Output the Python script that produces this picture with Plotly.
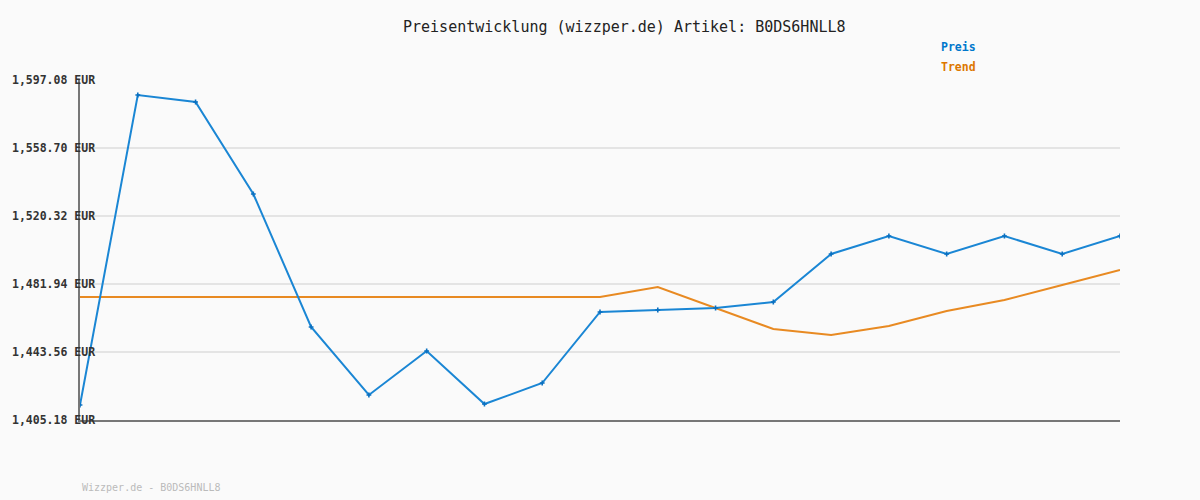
import plotly.graph_objects as go

x_idx = list(range(19))
preis = [1413.65, 1588.61, 1584.66, 1532.74, 1457.67, 1419.29, 1444.12, 1414.21, 1426.06,
         1466.14, 1467.26, 1468.39, 1471.78, 1498.87, 1509.03, 1498.87, 1509.03, 1498.87, 1509.03]
trend = [1474.6, 1474.6, 1474.6, 1474.6, 1474.6, 1474.6, 1474.6, 1474.6, 1474.6,
         1474.6, 1480.25, 1468.39, 1456.54, 1453.15, 1458.23, 1466.7, 1472.91, 1481.37, 1489.84]
tick_vals = [1405.18, 1443.56, 1481.94, 1520.32, 1558.70, 1597.08]
tick_text = ["1,405.18 EUR", "1,443.56 EUR", "1,481.94 EUR", "1,520.32 EUR", "1,558.70 EUR", "1,597.08 EUR"]
title_text = "Preisentwicklung (wizzper.de) Artikel: B0DS6HNLL8"
footer_text = "Wizzper.de - B0DS6HNLL8"

MONO = "DejaVu Sans Mono"
BG = "#fafafa"

fig = go.Figure()
fig.add_trace(go.Scatter(x=x_idx, y=trend, mode="lines", line=dict(color="#e88a22", width=2),
                         name="Trend", hoverinfo="skip"))
fig.add_trace(go.Scatter(x=x_idx, y=preis, mode="lines+markers", line=dict(color="#1a86d4", width=2),
                         marker=dict(symbol="cross", size=4, color="#0a70c0"), name="Preis"))

anns = []
for v, t in zip(tick_vals, tick_text):
    anns.append(dict(x=0, xref="paper", xshift=-70, y=v, yref="y", text=t, showarrow=False,
                     xanchor="left", yanchor="middle",
                     font=dict(family=MONO, size=11.5, color="#333333", weight="bold")))
anns.append(dict(x=(624 - 80) / 1040, xref="paper", y=1, yref="paper", yshift=53, text=title_text,
                 showarrow=False, xanchor="center", yanchor="middle",
                 font=dict(family=MONO, size=15, color="#222222")))
anns.append(dict(x=(939 - 80) / 1040, xref="paper", y=1, yref="paper", yshift=33, text="Preis",
                 showarrow=False, xanchor="left", yanchor="middle",
                 font=dict(family=MONO, size=11.5, color="#0077cc", weight="bold")))
anns.append(dict(x=(939 - 80) / 1040, xref="paper", y=1, yref="paper", yshift=13, text="Trend",
                 showarrow=False, xanchor="left", yanchor="middle",
                 font=dict(family=MONO, size=11.5, color="#dd7700", weight="bold")))
anns.append(dict(x=0, xref="paper", y=0, yref="paper", yshift=-67, text=footer_text,
                 showarrow=False, xanchor="left", yanchor="middle",
                 font=dict(family=MONO, size=10, color="#bbbbbb")))

fig.update_layout(
    width=1200, height=500,
    margin=dict(l=80, r=80, t=80, b=80),
    paper_bgcolor=BG, plot_bgcolor=BG,
    showlegend=False,
    xaxis=dict(range=[0, 18], showgrid=False, showticklabels=False, zeroline=False,
               showline=True, linecolor="#777777", linewidth=2, ticks=""),
    yaxis=dict(range=[1405.18, 1597.08], tickvals=tick_vals, showticklabels=False,
               showgrid=True, gridcolor="#e4e4e4", gridwidth=2, zeroline=False,
               showline=True, linecolor="#777777", linewidth=2, ticks=""),
    annotations=anns,
)

fig.write_html("out.html", config={"displayModeBar": False},
               post_script="document.body.style.margin='0';document.body.style.background='#fafafa';")
